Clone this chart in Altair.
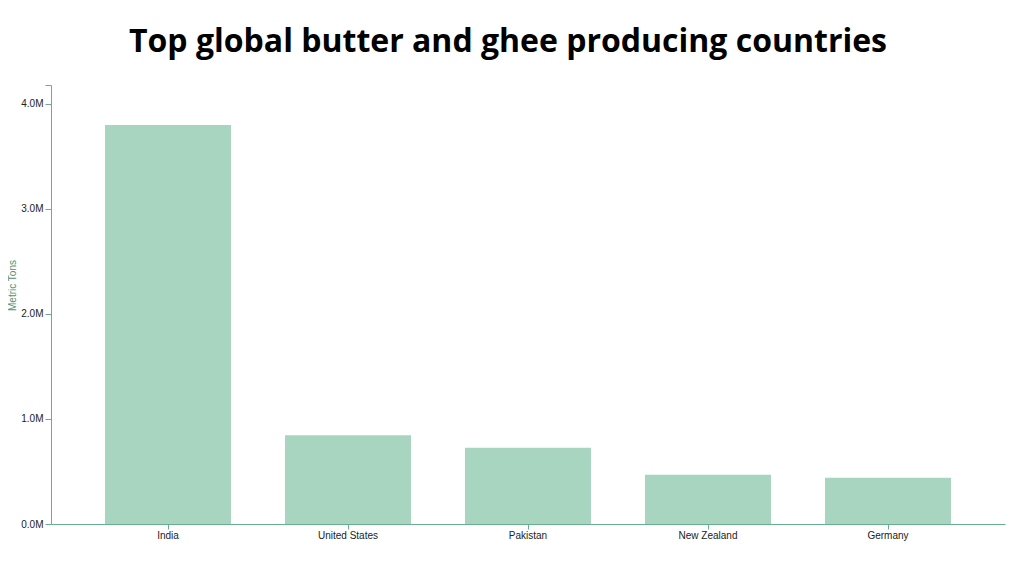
import altair as alt
import pandas as pd

countries = ["India", "United States", "Pakistan", "New Zealand", "Germany"]
production = [3800000, 845000, 725000, 470000, 440000]
y_ticks = [0, 1000000, 2000000, 3000000, 4000000, 4180000]

df = pd.DataFrame({"country": countries, "tons": production})

AXIS_GREEN = "#6aae8f"

chart = (
    alt.Chart(df)
    .mark_bar(color="#a8d5c0")
    .encode(
        x=alt.X(
            "country:N",
            sort=countries,
            title=None,
            scale=alt.Scale(paddingInner=0.3, paddingOuter=0.3),
            axis=alt.Axis(
                labelAngle=0,
                labelFont="Liberation Sans",
                labelFontSize=10,
                labelColor="#222222",
                labelPadding=1,
                tickSize=5,
                tickColor=AXIS_GREEN,
                domainColor=AXIS_GREEN,
                grid=False,
            ),
        ),
        y=alt.Y(
            "tons:Q",
            scale=alt.Scale(domain=[0, 4180000], nice=False, zero=True),
            axis=alt.Axis(
                title="Metric Tons",
                values=y_ticks,
                labelExpr="datum.value > 4100000 ? '' : format(datum.value / 1000000, '.1f') + 'M'",
                labelFont="Liberation Sans",
                labelFontSize=10,
                labelColor="#222222",
                labelPadding=2,
                tickSize=6,
                tickColor=AXIS_GREEN,
                domainColor=AXIS_GREEN,
                grid=False,
                titleFont="Liberation Sans",
                titleFontSize=10,
                titleFontWeight="normal",
                titleColor="#4e9470",
                titleAngle=270,
                titleX=-39,
                titleY=200,
                titleAlign="center",
                titleBaseline="middle",
            ),
        ),
    )
    .properties(
        width=954,
        height=439,
        autosize=alt.AutoSizeParams(type="none"),
        padding={"left": 43, "top": 77, "right": 11, "bottom": 40},
        background="#ffffff",
        title=alt.TitleParams(
            "Top global butter and ghee producing countries",
            font="Open Sans",
            fontSize=32,
            fontWeight="bold",
            color="#000000",
            anchor="middle",
            offset=26,
            dx=-20,
        ),
    )
    .configure_view(stroke=None)
)

chart.save("out.html", embed_options={"renderer": "svg", "actions": False})
